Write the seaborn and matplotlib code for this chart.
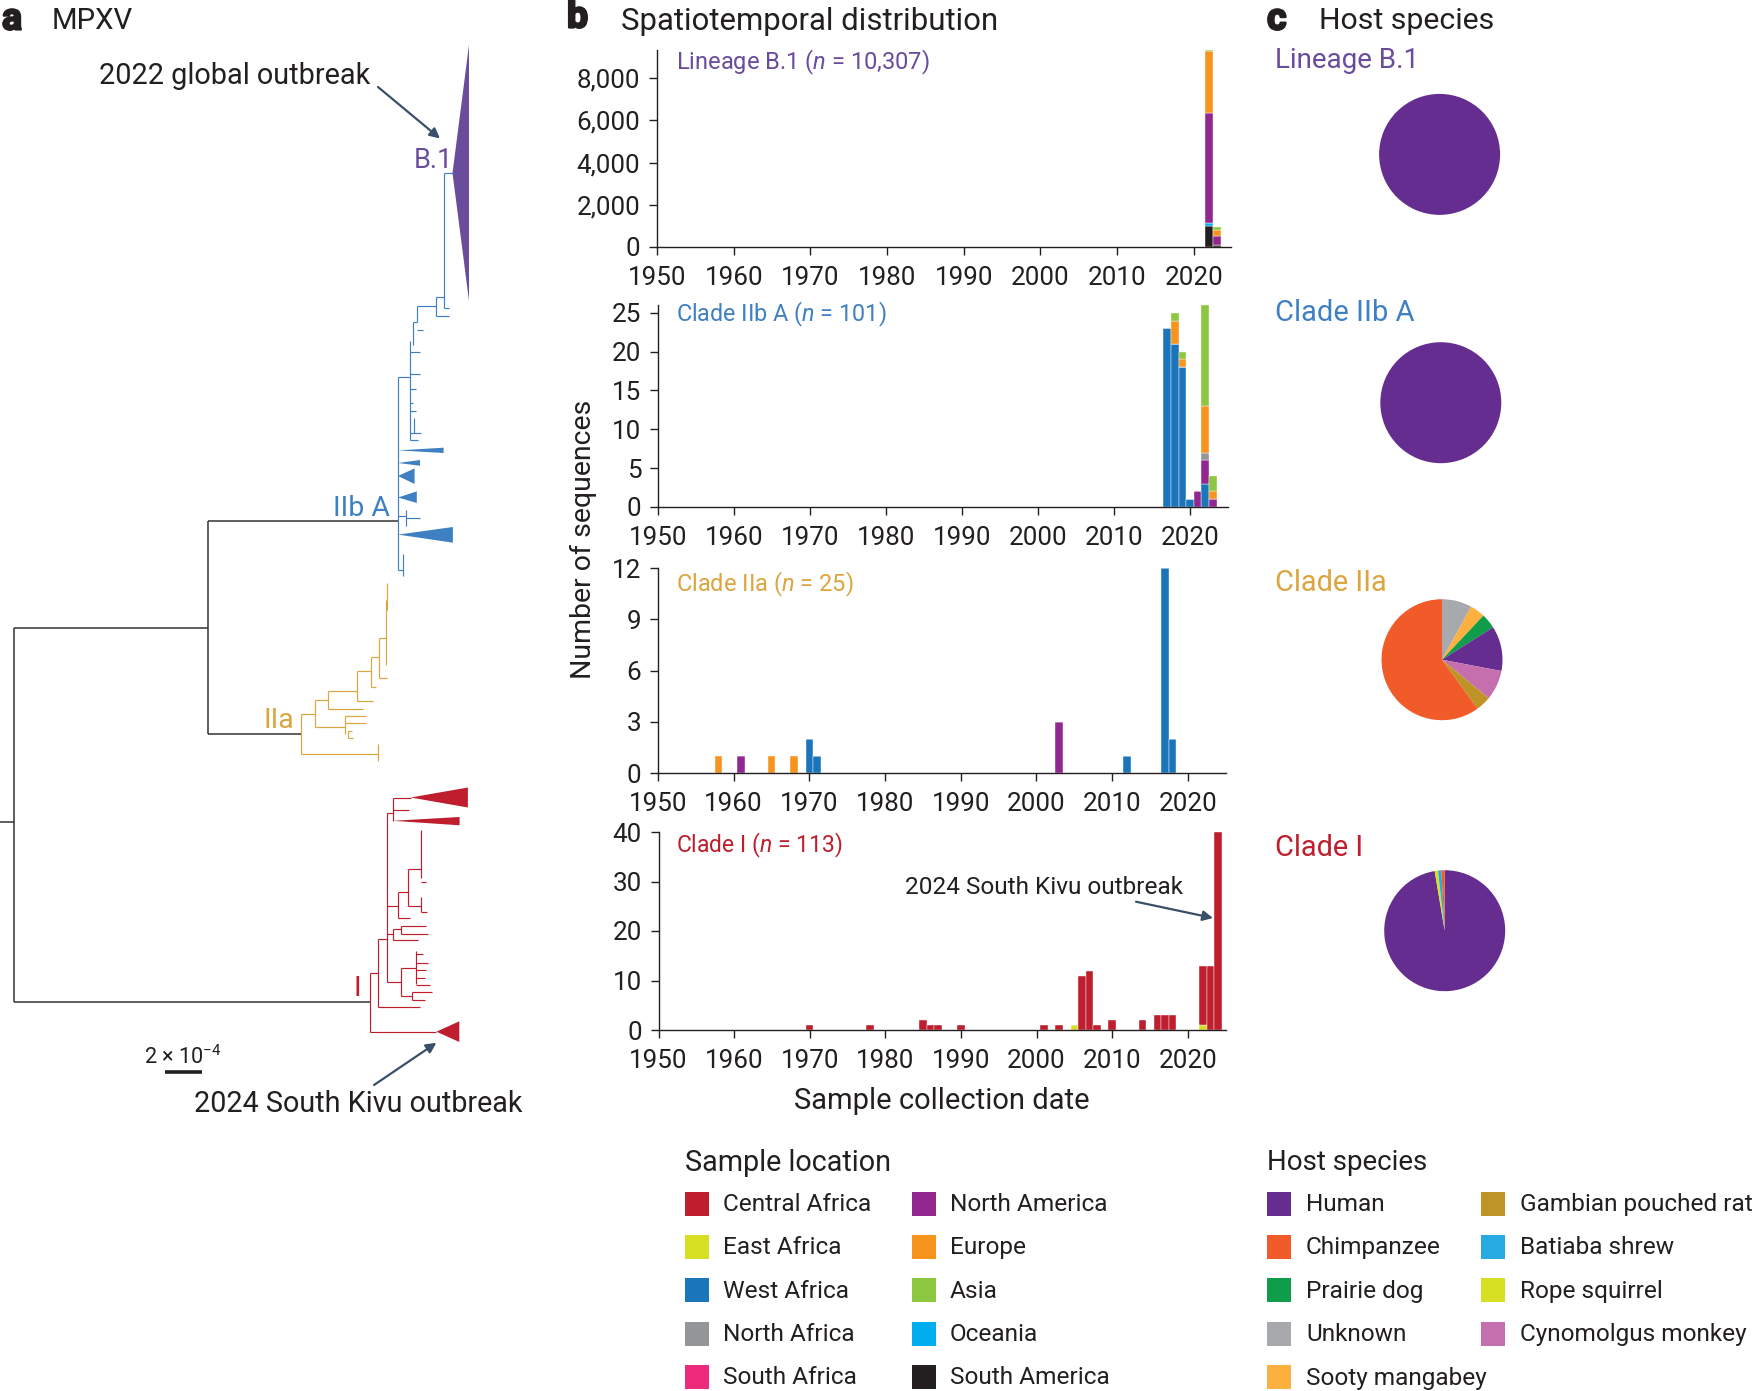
import matplotlib
matplotlib.use('Agg')
import matplotlib.pyplot as plt
import matplotlib.patheffects as pe
import pandas as pd
import seaborn as sns
from matplotlib.patches import Rectangle

W, H = 1754, 1391

# --- bars: year, sample location, number of sequences
b1_years = [2022, 2022, 2022, 2022, 2022, 2023, 2023, 2023, 2023]
b1_locs = ['South America', 'Oceania', 'North America', 'Europe', 'Asia',
           'South America', 'North America', 'Europe', 'Asia']
b1_counts = [1000, 120, 5210, 2950, 60, 80, 440, 300, 147]

iib_years = [2017, 2018, 2018, 2018, 2019, 2019, 2019, 2020, 2021,
             2022, 2022, 2022, 2022, 2022, 2023, 2023, 2023]
iib_locs = ['West Africa', 'West Africa', 'Europe', 'Asia', 'West Africa', 'Europe', 'Asia',
            'West Africa', 'North America', 'West Africa', 'North America', 'North Africa',
            'Europe', 'Asia', 'North America', 'Europe', 'Asia']
iib_counts = [23, 21, 3, 1, 18, 1, 1, 1, 2, 3, 3, 1, 6, 13, 1, 1, 2]

iia_years = [1958, 1961, 1965, 1968, 1970, 1971, 2003, 2012, 2017, 2018]
iia_locs = ['Europe', 'North America', 'Europe', 'Europe', 'West Africa', 'West Africa',
            'North America', 'West Africa', 'West Africa', 'West Africa']
iia_counts = [1, 1, 1, 1, 2, 1, 3, 1, 12, 2]

i_years = [1970, 1978, 1985, 1986, 1987, 1990, 2001, 2003, 2005, 2006, 2007, 2008, 2010,
           2014, 2016, 2017, 2018, 2022, 2022, 2023, 2024]
i_locs = ['Central Africa'] * 8 + ['East Africa'] + ['Central Africa'] * 8 + \
         ['East Africa', 'Central Africa', 'Central Africa', 'Central Africa']
i_counts = [1, 1, 2, 1, 1, 1, 1, 1, 1, 11, 12, 1, 2, 2, 3, 3, 3, 1, 12, 13, 40]

# --- pies, clockwise from the top
b1_hosts = ['Human']
b1_host_counts = [10307]
iib_hosts = ['Human']
iib_host_counts = [101]
iia_hosts = ['Unknown', 'Sooty mangabey', 'Prairie dog', 'Human', 'Cynomolgus monkey',
             'Gambian pouched rat', 'Chimpanzee']
iia_host_counts = [2, 1, 1, 3, 2, 1, 15]
i_hosts = ['Human', 'Rope squirrel', 'Batiaba shrew', 'Chimpanzee']
i_host_counts = [110, 1, 1, 1]

loc_names = ['Central Africa', 'East Africa', 'West Africa', 'North Africa', 'South Africa',
             'North America', 'Europe', 'Asia', 'Oceania', 'South America']
loc_colors = ['#BE1E2D', '#D7DF23', '#1B75BB', '#939598', '#EE2A7B',
              '#92278F', '#F7941D', '#8DC63F', '#00AEEF', '#231F20']
host_names = ['Human', 'Chimpanzee', 'Prairie dog', 'Unknown', 'Sooty mangabey',
              'Gambian pouched rat', 'Batiaba shrew', 'Rope squirrel', 'Cynomolgus monkey']
host_colors = ['#652D90', '#F15A29', '#0F9D49', '#A7A9AC', '#FBB040',
               '#BE9427', '#27AAE1', '#D7DF23', '#C56FAE']

# histplot puts the first hue on top of the stack
stack_order = ['Asia', 'Europe', 'South Africa', 'North Africa', 'North America', 'Oceania',
               'South America', 'West Africa', 'Central Africa', 'East Africa']

# --- tree branches, on the picture's own scale
root_h = [(0, 13.6, 822), (13.6, 208.2, 627.7), (13.6, 370.4, 1002), (208.2, 398, 521),
          (208.2, 301, 733.9)]
root_v = [(13.6, 627.7, 1002), (208.2, 521, 733.9)]

iib_h = [(398, 410, 377), (410, 420, 352), (410, 419.7, 374), (410, 416, 388.5), (410, 412.5, 403),
         (410, 416, 410.5), (410, 421.4, 432.5), (410, 418, 440), (412.5, 417, 322),
         (417, 423, 330), (417, 436.4, 306), (436.4, 449.3, 315.7), (436.4, 444, 296.6),
         (444, 449.3, 308), (444, 452.5, 173), (398, 406.4, 516), (406.4, 420, 518),
         (398, 402.5, 570)]
iib_v = [(398, 377, 570), (410, 340.6, 440), (412.5, 322, 345), (417, 306, 322),
         (436.4, 296.6, 315.7), (444, 173, 308), (406.4, 510, 526), (403, 554, 576),
         (414, 418, 433)]
iib_tris = [(398, 450.4, 443.6, 447.7, 453), (398, 463, 420, 460, 465.7),
            (398, 476, 414.6, 468.4, 484), (398, 497.5, 416.8, 491.4, 503),
            (398, 534.6, 452.9, 527, 542.7)]
b1_tris = [(452.5, 173, 469, 45, 301)]

iia_h = [(301, 377.5, 754.2), (301, 315, 713.5), (315, 345.4, 726.5), (345.4, 366, 716),
         (345.4, 366, 722.8), (347.5, 351.8, 731), (347.5, 352.5, 738.3), (315, 327.5, 699.8),
         (327.5, 362.9, 708.7), (327.5, 357, 691.3), (357, 372.9, 701.3), (357, 371.4, 671),
         (371.4, 375.7, 686.5), (371.4, 378.6, 657), (378.6, 387, 678.4), (378.6, 385.7, 637.7)]
iia_v = [(301, 713.5, 754.2), (377.5, 744, 760.5), (315, 699.8, 726.5), (345.4, 716, 733.9),
         (347.5, 731, 738.3), (327.5, 691.3, 708.7), (357, 671, 701.3), (371.4, 657, 686.5),
         (378.6, 637.7, 678.4), (385.7, 600, 665.4), (387, 583, 610)]

i_h = [(370.4, 436.4, 1031.7), (370.4, 377.9, 972.5), (377.9, 419.6, 1006.5), (377.9, 387, 939.2),
       (387, 392.9, 813.4), (392.9, 410.7, 797.5), (392.9, 408.9, 809.7), (387, 397.5, 905.5),
       (397.5, 410, 918), (397.5, 408.2, 892.2), (408.2, 421.4, 905.9), (421.4, 426.8, 911.5),
       (408.2, 420.7, 868.9), (420.7, 425.7, 881.9), (387, 392.9, 934.4), (392.9, 417.9, 940.3),
       (392.9, 401, 929.2), (401, 425.7, 925.5), (401, 427.5, 933.7), (387, 400.7, 981.8),
       (400.7, 416, 967.7), (416, 422.5, 954), (416, 428, 962.5), (416, 426.2, 970),
       (416, 425, 977.5), (416, 429.5, 984.7), (400.7, 411.8, 995.8), (411.8, 431.8, 991.8),
       (411.8, 425, 999.5)]
i_v = [(370.4, 972.5, 1031.7), (377.9, 939.2, 1006.5), (387, 813.4, 981.8), (392.9, 797.5, 820.8),
       (397.5, 892.2, 918), (408.2, 868.9, 905.9), (421.4, 896.7, 911.5), (420.7, 830, 878),
       (392.9, 929.2, 940.3), (401, 925.5, 933.7), (400.7, 967.7, 995.8), (416, 951.4, 983.6),
       (411.8, 991.8, 999.5)]
i_tris = [(410.7, 797.5, 467.9, 787.5, 807.5), (392.9, 820.8, 459.6, 817, 825.3),
          (436.4, 1031.7, 459.3, 1021.3, 1042)]

legend_loc_cols = [loc_names[:5], loc_names[5:]]
legend_host_cols = [host_names[:5], host_names[5:]]

sns.set_style('ticks')
plt.rcParams['font.family'] = ['Roboto', 'DejaVu Sans']
plt.rcParams['mathtext.fontset'] = 'custom'
plt.rcParams['mathtext.rm'] = 'Roboto'
plt.rcParams['mathtext.it'] = 'Roboto:italic'
plt.rcParams['mathtext.default'] = 'regular'

INK = '#231F20'
ARROW = '#3B4F6B'
PURPLE = '#6A4C9C'
BLUE = '#3F80C3'
GOLD = '#DBA53F'
RED = '#BE1E2D'
loc_pal = dict(zip(loc_names, loc_colors))
host_pal = dict(zip(host_names, host_colors))

fig = plt.figure(figsize=(W / 100, H / 100), dpi=100)


def axes_px(left, top, right, bottom):
    return fig.add_axes([left / W, 1 - bottom / H, (right - left) / W, (bottom - top) / H])


# overlay in picture pixels for the tree and all free text
over = fig.add_axes([0, 0, 1, 1], zorder=5)
over.set_xlim(0, W)
over.set_ylim(H, 0)
over.axis('off')
over.patch.set_alpha(0)


def txt(x, y, s, size=18.5, color=INK, **kw):
    kw.setdefault('va', 'center')
    return over.text(x, y, s, fontsize=size, color=color, **kw)


# panels b: stacked bars
panels = [
    (b1_years, b1_locs, b1_counts, (657, 50, 1230.7, 247), (1950, 2024.8), 9340,
     [0, 2000, 4000, 6000, 8000], ['0', '2,000', '4,000', '6,000', '8,000']),
    (iib_years, iib_locs, iib_counts, (658, 305, 1228, 507), (1950, 2025), 26,
     [0, 5, 10, 15, 20, 25], None),
    (iia_years, iia_locs, iia_counts, (658, 568, 1225.6, 773.3), (1950, 2025), 12,
     [0, 3, 6, 9, 12], None),
    (i_years, i_locs, i_counts, (658.5, 832, 1225.5, 1030), (1950, 2025), 40,
     [0, 10, 20, 30, 40], None),
]
for years, locs, counts, box, xlim, ytop, yticks, ylabels in panels:
    ax = axes_px(*box)
    df = pd.DataFrame({'year': years, 'location': locs, 'count': counts})
    sns.histplot(data=df, x='year', weights='count', hue='location', hue_order=stack_order,
                 palette=loc_pal, multiple='stack', discrete=True, alpha=1,
                 edgecolor='white', linewidth=0.3, legend=False, ax=ax)
    ax.set_xlim(*xlim)
    ax.set_ylim(0, ytop)
    ax.set_xticks(range(1950, 2021, 10))
    ax.set_yticks(yticks)
    if ylabels:
        ax.set_yticklabels(ylabels)
    ax.set_xlabel('')
    ax.set_ylabel('')
    ax.tick_params(labelsize=18.7, colors=INK, length=6, width=1, pad=6)
    ax.tick_params(axis='x', pad=7.5)
    sns.despine(ax=ax)
    for s in ax.spines.values():
        s.set_linewidth(1)
        s.set_color(INK)

txt(676, 62, 'Lineage B.1 ($\\mathit{n}$ = 10,307)', size=17, color=PURPLE)
txt(676, 314, 'Clade IIb A ($\\mathit{n}$ = 101)', size=16.8, color=BLUE)
txt(676, 584, 'Clade IIa ($\\mathit{n}$ = 25)', size=17, color=GOLD)
txt(676, 845, 'Clade I ($\\mathit{n}$ = 113)', size=16.5, color=RED)
txt(583, 539, 'Number of sequences', rotation=90, ha='center', size=20.5)
txt(942, 1101, 'Sample collection date', ha='center', size=21)
txt(905, 887, '2024 South Kivu outbreak', size=17.6)

# panels c: host pies
pies = [(b1_hosts, b1_host_counts, 1439.6, 154.4), (iib_hosts, iib_host_counts, 1440.8, 402.7),
        (iia_hosts, iia_host_counts, 1442, 659.7), (i_hosts, i_host_counts, 1444.7, 930.7)]
R = 60.7
for hosts, nums, cx, cy in pies:
    ax = axes_px(cx - R - 1, cy - R - 1, cx + R + 1, cy + R + 1)
    ax.pie(nums, colors=[host_pal[h] for h in hosts], startangle=90, counterclock=False,
           radius=1, wedgeprops={'linewidth': 0})
    ax.set_xlim(-1.02, 1.02)
    ax.set_ylim(-1.02, 1.02)

txt(1275, 61, 'Lineage B.1', size=20, color=PURPLE)
txt(1275, 313, 'Clade IIb A', size=20.9, color=BLUE)
txt(1275, 583, 'Clade IIa', size=20.8, color=GOLD)
txt(1275, 848, 'Clade I', size=20.8, color=RED)

# panel a: tree
for hs, vs, col in [(root_h, root_v, '#333333'), (iib_h, iib_v, BLUE),
                    (iia_h, iia_v, GOLD), (i_h, i_v, RED)]:
    lw = 1.1 if col == '#333333' else 0.85
    over.hlines([h[2] for h in hs], [h[0] for h in hs], [h[1] for h in hs], color=col, lw=lw)
    over.vlines([v[0] for v in vs], [v[1] for v in vs], [v[2] for v in vs], color=col, lw=lw)
for tris, col in [(b1_tris, PURPLE), (iib_tris, BLUE), (i_tris, RED)]:
    for ax_, ay_, rx, y0, y1 in tris:
        over.fill([ax_, rx, rx], [ay_, y0, y1], color=col, lw=0)

txt(453, 160, 'B.1', size=19.5, color=PURPLE, ha='right')
txt(390, 508, 'IIb A', size=20.5, color=BLUE, ha='right')
txt(294, 720, 'IIa', size=20.5, color=GOLD, ha='right')
txt(361, 988, 'I', size=20.5, color=RED, ha='right')

txt(99, 76, '2022 global outbreak', size=20.8)
txt(194, 1104, '2024 South Kivu outbreak', size=20.7)
txt(144, 1057, '2 × 10$^{-4}$', size=15.6)
over.hlines(1072.4, 165.4, 202, color=INK, lw=2.6)

for (x0, y0), (x1, y1) in [((378, 87), (440, 138.5)), ((374, 1085), (436.4, 1042.8)),
                           ((1136, 901.7), (1213, 918))]:
    over.annotate('', xy=(x1, y1), xytext=(x0, y0),
                  arrowprops=dict(arrowstyle='-|>', color=ARROW, lw=1.6, shrinkA=0, shrinkB=0,
                                  mutation_scale=15))

# titles and panel letters
for x, y, letter in [(2, 19, 'a'), (567, 17, 'b'), (1267, 19, 'c')]:
    t = txt(x, y, letter, size=27, fontweight='bold')
    t.set_path_effects([pe.withStroke(linewidth=1.6, foreground=INK)])
txt(52, 21, 'MPXV', size=21.2)
txt(621, 21, 'Spatiotemporal distribution', size=22.4)
txt(1319, 21, 'Host species', size=21.8)

# legends, drawn by hand so the columns sit where they do in the figure
ROWS = [1203.5, 1246.7, 1290.3, 1333.8, 1377]
txt(685, 1163, 'Sample location', size=20.7)
for names, x_box in zip(legend_loc_cols, [685, 912]):
    for name, y in zip(names, ROWS):
        over.add_patch(Rectangle((x_box, y - 12), 24, 24, color=loc_pal[name], lw=0))
        txt(x_box + 38, y + 1, name, size=17.6)
txt(1267, 1163, 'Host species', size=20)
for names, x_box in zip(legend_host_cols, [1267, 1481]):
    for name, y in zip(names, ROWS):
        over.add_patch(Rectangle((x_box, y - 12), 24, 24, color=host_pal[name], lw=0))
        txt(x_box + 39, y + 1, name, size=17.6)

fig.savefig('out.png', dpi=100)
